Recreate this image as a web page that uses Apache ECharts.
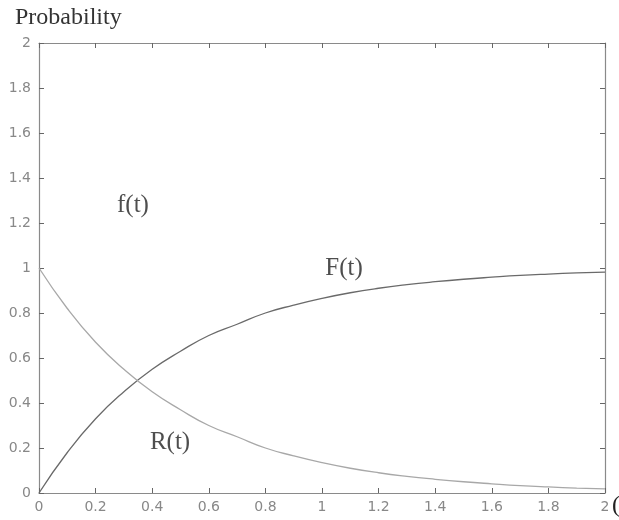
<!DOCTYPE html>
<html><head><meta charset="utf-8">
<script src="https://cdn.jsdelivr.net/npm/echarts@6/dist/echarts.min.js"></script>
<style>html,body{margin:0;padding:0;background:#fff}#c{width:619px;height:520px}</style>
</head><body><div id="c"></div>
<script>
const tValues = [0,0.1,0.2,0.3,0.4,0.5,0.6,0.7,0.8,0.9,1.0,1.1,1.2,1.3,1.4,1.5,1.6,1.7,1.8,1.9,2.0];
const rValues = [1.0,0.82,0.67,0.55,0.45,0.37,0.30,0.25,0.20,0.165,0.135,0.11,0.09,0.074,0.061,0.05,0.041,0.033,0.027,0.022,0.018];
const fCumValues = [0.0,0.18,0.33,0.45,0.55,0.63,0.70,0.75,0.80,0.835,0.865,0.89,0.91,0.926,0.939,0.95,0.959,0.967,0.973,0.978,0.982];
const curveLabels = [
  {text:'f(t)', x:0.332, y:1.28},
  {text:'F(t)', x:1.078, y:1.0},
  {text:'R(t)', x:0.463, y:0.223}
];
const chart = echarts.init(document.getElementById('c'));
const pairs = (xs, ys) => xs.map((x,i)=>[x, ys[i]]);
const axisCommon = () => ({
  min:0, max:2, interval:0.2,
  axisLine:{show:true, onZero:false, lineStyle:{color:'#8a8a8a', width:1.2}},
  axisTick:{show:true, inside:true, length:5, lineStyle:{color:'#666'}},
  splitLine:{show:false}
});
const fmt = v => String(Math.round(v*10)/10);
const tickFont = {color:'#888', fontSize:14, fontFamily:'DejaVu Sans', formatter:fmt};
chart.setOption({
  animation:false,
  grid:{left:39, right:14, top:43, bottom:27, containLabel:false},
  xAxis:[
    Object.assign({type:'value', position:'bottom', axisLabel:Object.assign({margin:7}, tickFont)}, axisCommon()),
    Object.assign({type:'value', position:'top', axisLabel:{show:false}}, axisCommon())
  ],
  yAxis:[
    Object.assign({type:'value', position:'left', axisLabel:Object.assign({margin:8}, tickFont)}, axisCommon()),
    Object.assign({type:'value', position:'right', axisLabel:{show:false}}, axisCommon())
  ],
  graphic:[
    {type:'text', left:15, top:6, style:{text:'Probability', fill:'#333', font:'24px "Liberation Serif", serif'}},
    {type:'text', left:612, top:494, style:{text:'(', fill:'#222', font:'24px "Liberation Serif", serif'}}
  ],
  series:[
    {type:'line', data:pairs(tValues, fCumValues), smooth:true, showSymbol:false,
     lineStyle:{color:'#6a6a6a', width:1.3}},
    {type:'line', data:pairs(tValues, rValues), smooth:true, showSymbol:false,
     lineStyle:{color:'#a8a8a8', width:1.3}},
    {type:'scatter', data:curveLabels.map(l=>({value:[l.x,l.y], name:l.text})),
     symbolSize:0,
     label:{show:true, position:'inside', formatter:p=>p.name, color:'#222',
       fontSize:25, fontFamily:'Liberation Serif'}}
  ]
});
</script></body></html>
